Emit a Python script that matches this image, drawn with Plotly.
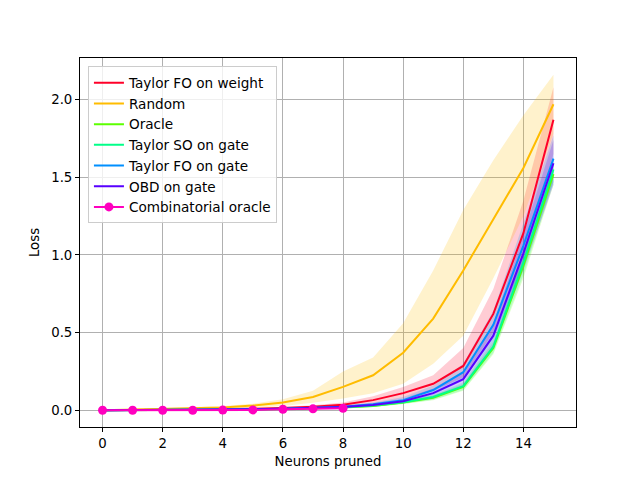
import plotly.graph_objects as go

x = list(range(16))
x_comb = list(range(9))

taylor_fo_weight = [0, 0.001, 0.002, 0.004, 0.006, 0.009, 0.014, 0.022, 0.035, 0.065, 0.11, 0.17, 0.285, 0.62, 1.14, 1.87]
taylor_fo_weight_lo = [0, 0.0005, 0.001, 0.002, 0.003, 0.005, 0.008, 0.013, 0.022, 0.04, 0.075, 0.125, 0.21, 0.5, 0.95, 1.65]
taylor_fo_weight_hi = [0, 0.002, 0.003, 0.006, 0.009, 0.013, 0.02, 0.032, 0.05, 0.09, 0.15, 0.225, 0.4, 0.78, 1.35, 2.08]

random_mean = [0, 0.004, 0.008, 0.012, 0.018, 0.03, 0.05, 0.085, 0.15, 0.225, 0.37, 0.59, 0.9, 1.23, 1.56, 1.97]
random_lo = [0, 0.002, 0.004, 0.006, 0.009, 0.016, 0.028, 0.048, 0.075, 0.11, 0.17, 0.3, 0.48, 0.85, 1.25, 1.78]
random_hi = [0, 0.006, 0.012, 0.018, 0.028, 0.042, 0.07, 0.125, 0.25, 0.34, 0.56, 0.9, 1.29, 1.61, 1.9, 2.16]

oracle = [0, 0.0005, 0.001, 0.002, 0.003, 0.005, 0.008, 0.012, 0.018, 0.028, 0.05, 0.08, 0.15, 0.40, 0.93, 1.52]
oracle_lo = [0, 0.0003, 0.0006, 0.001, 0.002, 0.003, 0.005, 0.008, 0.012, 0.02, 0.04, 0.065, 0.125, 0.36, 0.85, 1.45]
oracle_hi = [0, 0.0008, 0.0015, 0.003, 0.004, 0.007, 0.011, 0.016, 0.024, 0.036, 0.06, 0.095, 0.17, 0.44, 1.0, 1.58]

taylor_so_gate = [0, 0.0005, 0.001, 0.002, 0.003, 0.005, 0.008, 0.012, 0.019, 0.03, 0.052, 0.085, 0.155, 0.41, 0.95, 1.55]
taylor_so_gate_lo = [0, 0.0003, 0.0006, 0.001, 0.002, 0.003, 0.005, 0.008, 0.013, 0.021, 0.04, 0.068, 0.13, 0.37, 0.87, 1.47]
taylor_so_gate_hi = [0, 0.0008, 0.0015, 0.003, 0.004, 0.007, 0.011, 0.016, 0.025, 0.038, 0.064, 0.1, 0.18, 0.46, 1.03, 1.62]

taylor_fo_gate = [0, 0.0006, 0.0012, 0.0025, 0.004, 0.006, 0.01, 0.015, 0.023, 0.038, 0.065, 0.13, 0.245, 0.55, 1.06, 1.62]
taylor_fo_gate_lo = [0, 0.0004, 0.0008, 0.0015, 0.0025, 0.004, 0.007, 0.01, 0.016, 0.027, 0.048, 0.1, 0.19, 0.46, 0.93, 1.47]
taylor_fo_gate_hi = [0, 0.0009, 0.0018, 0.0035, 0.006, 0.009, 0.014, 0.021, 0.032, 0.05, 0.085, 0.16, 0.3, 0.64, 1.2, 1.77]

obd_gate = [0, 0.0005, 0.001, 0.002, 0.0035, 0.0055, 0.009, 0.013, 0.02, 0.033, 0.058, 0.11, 0.2, 0.48, 1.01, 1.59]
obd_gate_lo = [0, 0.0003, 0.0007, 0.0013, 0.0022, 0.0035, 0.006, 0.009, 0.014, 0.023, 0.043, 0.085, 0.16, 0.41, 0.9, 1.45]
obd_gate_hi = [0, 0.0008, 0.0015, 0.003, 0.005, 0.008, 0.012, 0.018, 0.028, 0.045, 0.075, 0.14, 0.25, 0.56, 1.13, 1.74]

comb_oracle = [0, 0, 0, 0, 0.001, 0.002, 0.006, 0.009, 0.013]

names = ["Taylor FO on weight", "Random", "Oracle", "Taylor SO on gate", "Taylor FO on gate", "OBD on gate"]
colors = ["#ff0029", "#ffbc00", "#5cff00", "#00ff89", "#008fff", "#5700ff"]
rgbs = [(255, 0, 41), (255, 188, 0), (92, 255, 0), (0, 255, 137), (0, 143, 255), (87, 0, 255)]
means = [taylor_fo_weight, random_mean, oracle, taylor_so_gate, taylor_fo_gate, obd_gate]
los = [taylor_fo_weight_lo, random_lo, oracle_lo, taylor_so_gate_lo, taylor_fo_gate_lo, obd_gate_lo]
his = [taylor_fo_weight_hi, random_hi, oracle_hi, taylor_so_gate_hi, taylor_fo_gate_hi, obd_gate_hi]
comb_color = "#ff00bf"

fig = go.Figure()
for name, c, rgb, m, lo, hi in zip(names, colors, rgbs, means, los, his):
    fig.add_trace(go.Scatter(
        x=x + x[::-1], y=hi + lo[::-1], fill="toself",
        fillcolor="rgba(%d,%d,%d,0.2)" % rgb, line=dict(width=0),
        mode="lines", showlegend=False, hoverinfo="skip"))
for name, c, m in zip(names, colors, means):
    fig.add_trace(go.Scatter(x=x, y=m, mode="lines", name=name,
                             line=dict(color=c, width=2)))
fig.add_trace(go.Scatter(x=x_comb, y=comb_oracle, mode="lines+markers",
                         name="Combinatorial oracle",
                         line=dict(color=comb_color, width=2),
                         marker=dict(color=comb_color, size=9)))

axis_common = dict(showgrid=True, gridcolor="#b0b0b0", gridwidth=0.8,
                   showline=True, linecolor="black", linewidth=1, mirror=True,
                   ticks="outside", ticklen=4, tickcolor="black", zeroline=False,
                   tickfont=dict(size=13.3, color="black"))
fig.update_xaxes(range=[-0.75, 15.75], tickvals=[0, 2, 4, 6, 8, 10, 12, 14],
                 title=dict(text="Neurons pruned", font=dict(size=13.3, color="black"), standoff=6),
                 **axis_common)
fig.update_yaxes(range=[-0.108, 2.268], tickvals=[0, 0.5, 1.0, 1.5, 2.0],
                 ticktext=["0.0", "0.5", "1.0", "1.5", "2.0"],
                 title=dict(text="Loss", font=dict(size=13.3, color="black"), standoff=8),
                 **axis_common)
fig.update_layout(
    width=640, height=480,
    margin=dict(l=80, r=64, t=58, b=53),
    paper_bgcolor="white", plot_bgcolor="white",
    font=dict(family="DejaVu Sans", size=13.3, color="black"),
    legend=dict(x=0.016, y=0.977, xanchor="left", yanchor="top",
                bgcolor="rgba(255,255,255,0.8)", bordercolor="#cccccc", borderwidth=1,
                font=dict(size=13.6), tracegroupgap=0, itemwidth=30),
    showlegend=True,
)
fig.write_html("out.html")
